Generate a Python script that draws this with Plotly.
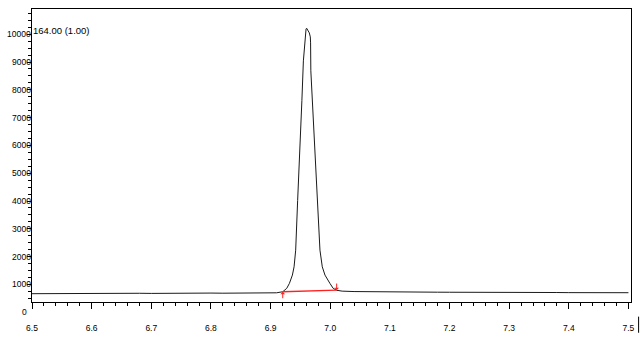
import plotly.graph_objects as go

# ---- data ----
baseline_left_t = [6.50, 6.52, 6.54, 6.56, 6.58, 6.60, 6.62, 6.64, 6.66, 6.68, 6.70,
                   6.72, 6.74, 6.76, 6.78, 6.80, 6.82, 6.84, 6.86, 6.88, 6.90, 6.91]
baseline_left_v = [668, 672, 665, 675, 670, 678, 673, 680, 676, 683, 678,
                   685, 680, 688, 684, 690, 686, 692, 688, 695, 690, 700]

peak_t = [6.9204, 6.9271, 6.9316, 6.9366, 6.9394, 6.9421, 6.9454, 6.9494, 6.9525,
          6.9550, 6.9575, 6.9595, 6.9605, 6.9633, 6.9650, 6.9666, 6.9671, 6.9675,
          6.9708, 6.9745, 6.9788, 6.9828, 6.9867, 6.9912, 6.9995, 7.0050, 7.0108]
peak_v = [738, 860, 1039, 1337, 1634, 2233, 4025, 5817, 7609,
          9043, 9760, 10190, 10215, 10118, 10047, 9903, 9688, 8685,
          7251, 5817, 4025, 2233, 1634, 1337, 1039, 860, 790]

baseline_right_t = [7.02, 7.04, 7.06, 7.08, 7.10, 7.12, 7.14, 7.16, 7.18, 7.20, 7.22,
                    7.24, 7.26, 7.28, 7.30, 7.32, 7.34, 7.36, 7.38, 7.40, 7.42, 7.44,
                    7.46, 7.48, 7.50]
baseline_right_v = [760, 745, 738, 735, 730, 728, 730, 725, 722, 720, 722,
                    718, 715, 716, 712, 714, 710, 708, 710, 706, 708, 704,
                    705, 702, 703]

integ_t = [6.9204, 7.0108]      # integration start / end
integ_v = [738, 799]            # integration baseline levels

peak_label = "164.00 (1.00)"
y_ticks = [0, 1000, 2000, 3000, 4000, 5000, 6000, 7000, 8000, 9000, 10000]
x_ticks = [6.5, 6.6, 6.7, 6.8, 6.9, 7.0, 7.1, 7.2, 7.3, 7.4, 7.5]
y_range = [369, 10907]
x_range = [6.5, 7.5043]

# ---- figure ----
t_all = baseline_left_t + peak_t + baseline_right_t
v_all = baseline_left_v + peak_v + baseline_right_v

fig = go.Figure()
fig.add_trace(go.Scatter(x=t_all, y=v_all, mode="lines",
                         line=dict(color="#1a1a1a", width=1), hoverinfo="skip"))
fig.add_trace(go.Scatter(x=integ_t, y=integ_v, mode="lines",
                         line=dict(color="#ff2020", width=1.3), hoverinfo="skip"))

FONT = "Liberation Sans, Arial, sans-serif"
# integration markers (arrows)
fig.add_annotation(x=integ_t[0], y=integ_v[0], ax=0, ay=8, text="", showarrow=True,
                   arrowhead=1, arrowsize=0.8, arrowwidth=1, arrowcolor="#ff2020",
                   xref="x", yref="y")
fig.add_annotation(x=integ_t[1], y=integ_v[1], ax=0, ay=-8, text="", showarrow=True,
                   arrowhead=1, arrowsize=0.8, arrowwidth=1, arrowcolor="#ff2020",
                   xref="x", yref="y")
# peak label
fig.add_annotation(x=0, y=y_ticks[-1], xref="paper", yref="y", text=peak_label,
                   showarrow=False, xanchor="left", yanchor="middle", xshift=-1,
                   yshift=4, font=dict(family=FONT, size=9.5, color="black"))

# y tick labels (drawn flush against the axis, as in the reference)
for v in y_ticks[1:]:
    fig.add_annotation(x=0, y=v, xref="paper", yref="y", text=str(v),
                       showarrow=False, xanchor="right", yanchor="middle",
                       xshift=1, font=dict(family=FONT, size=8.5, color="black"))
# "0" sits below the bottom of the axis range
fig.add_annotation(x=0, y=(y_ticks[0] - y_range[0]) / (y_range[1] - y_range[0]),
                   xref="paper", yref="paper", text=str(y_ticks[0]),
                   showarrow=False, xanchor="right", yanchor="middle",
                   xshift=-3, font=dict(family=FONT, size=8.5, color="black"))

fig.update_layout(
    width=643, height=343,
    margin=dict(l=32, r=9, t=8, b=41),
    paper_bgcolor="white", plot_bgcolor="white",
    showlegend=False,
    font=dict(family=FONT, size=8.5, color="black"),
)
fig.update_xaxes(range=x_range, tickvals=x_ticks,
                 ticktext=[f"{v:.1f}" for v in x_ticks],
                 showline=True, linecolor="black", linewidth=1, mirror=True,
                 ticks="outside", ticklen=6, tickcolor="black", tickwidth=1,
                 minor=dict(dtick=0.02, tick0=6.5, ticks="outside", ticklen=3,
                            tickcolor="black", showgrid=False),
                 showgrid=False, zeroline=False, ticklabelstandoff=12)
fig.update_yaxes(range=y_range, tickvals=y_ticks[1:], showticklabels=False,
                 showline=True, linecolor="black", linewidth=1, mirror=True,
                 ticks="outside", ticklen=4, tickcolor="black", tickwidth=1,
                 minor=dict(dtick=250, tick0=0, ticks="outside", ticklen=3,
                            tickcolor="black", showgrid=False),
                 showgrid=False, zeroline=False)

fig.add_shape(type="line", xref="paper", yref="paper", x0=1.0127, x1=1.0127,
              y0=-0.05, y1=-0.105, line=dict(color="black", width=1))

fig.write_html("out.html")
